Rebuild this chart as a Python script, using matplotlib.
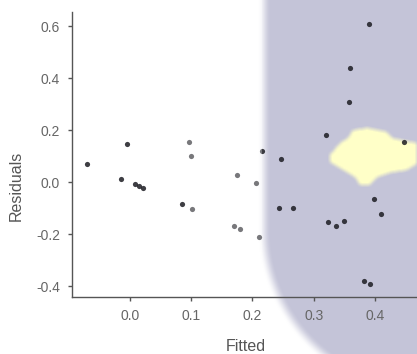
import numpy as np
import matplotlib
matplotlib.use("Agg")
import matplotlib.pyplot as plt
from matplotlib.path import Path
from matplotlib.patches import Rectangle

# Residuals vs fitted values
fitted = [-0.070, -0.005, -0.014, 0.009, 0.015, 0.021, 0.096, 0.099, 0.085, 0.102,
          0.320, 0.215, 0.247, 0.174, 0.205, 0.447, 0.398, 0.410, 0.243, 0.266,
          0.323, 0.336, 0.349, 0.170, 0.180, 0.210, 0.391, 0.360, 0.358, 0.382, 0.392]
residuals = [0.069, 0.147, 0.013, -0.009, -0.017, -0.023, 0.154, 0.101, -0.085, -0.103,
             0.181, 0.118, 0.087, 0.026, -0.004, 0.154, -0.064, -0.123, -0.100, -0.099,
             -0.155, -0.169, -0.149, -0.169, -0.181, -0.210, 0.609, 0.440, 0.308, -0.381, -0.391]
x_ticks = [0.0, 0.1, 0.2, 0.3, 0.4]
y_ticks = [-0.4, -0.2, 0.0, 0.2, 0.4, 0.6]

W, H = 417, 354
plt.rcParams['font.family'] = ['Liberation Sans', 'DejaVu Sans']

fig = plt.figure(figsize=(W / 100, H / 100), dpi=100, facecolor="white")

# background: lavender panel with soft rounded edge and a pale yellow blob
yy, xx = np.mgrid[0:H, 0:W] + 0.5
d = np.where(yy <= 230, xx - 265, 158 - np.hypot(xx - 423, yy - 230))
t = np.clip((d + 7) / 13, 0, 1)
lav_a = t * t * (3 - 2 * t)

blob = [(353, 130), (368, 128), (387, 132), (392, 138), (410, 142), (418, 143),
        (418, 163), (407, 170), (393, 172), (377, 177), (370, 185), (360, 185),
        (355, 177), (343, 170), (330, 162), (330, 155), (340, 143), (348, 138)]
inside = Path(blob).contains_points(np.c_[xx.ravel(), yy.ravel()]).reshape(H, W).astype(float)
k = np.ones(5) / 5
for axis in (0, 1):
    inside = np.apply_along_axis(lambda r: np.convolve(r, k, mode="same"), axis, inside)

bg = np.ones((H, W, 3))
lav = np.array([196, 196, 216]) / 255
yel = np.array([255, 255, 200]) / 255
bg = bg * (1 - lav_a[..., None]) + lav * lav_a[..., None]
bg = bg * (1 - inside[..., None]) + yel * inside[..., None]
fig.figimage(bg, xo=0, yo=0, origin="upper", zorder=-5)

ax = fig.add_axes([72 / W, 1 - 297 / H, (420 - 72) / W, (297 - 12) / H])
ax.patch.set_alpha(0)

ax.scatter(fitted, residuals, s=14, color="#1c1c22", alpha=0.85, linewidths=0)

ax.set_xlim(-0.0946, 0.4735)
ax.set_ylim(-0.442, 0.654)
ax.set_xticks(x_ticks)
ax.set_yticks(y_ticks)
ax.set_xticklabels([f"{v:.1f}" for v in x_ticks])
ax.set_yticklabels([f"{v:.1f}" for v in y_ticks])

for s in ("top", "right"):
    ax.spines[s].set_visible(False)
for s in ("left", "bottom"):
    ax.spines[s].set_color("#555555")
    ax.spines[s].set_linewidth(1.0)
ax.tick_params(length=3, width=1, color="#555555", labelcolor="#666666",
               labelsize=10, pad=5.5)

ax.set_xlabel("Fitted", fontsize=11.5, color="#555555")
ax.set_ylabel("Residuals", fontsize=11.5, color="#555555")
ax.xaxis.set_label_coords(0.5, -0.148)
ax.yaxis.set_label_coords(-0.14, 0.39)

# faint white veil over the middle band
fig.add_artist(Rectangle((186 / W, 62 / H), 76 / W, 292 / H, transform=fig.transFigure,
                         facecolor="white", alpha=0.3, linewidth=0, zorder=5))

fig.savefig("out.png", dpi=100, facecolor="white")
